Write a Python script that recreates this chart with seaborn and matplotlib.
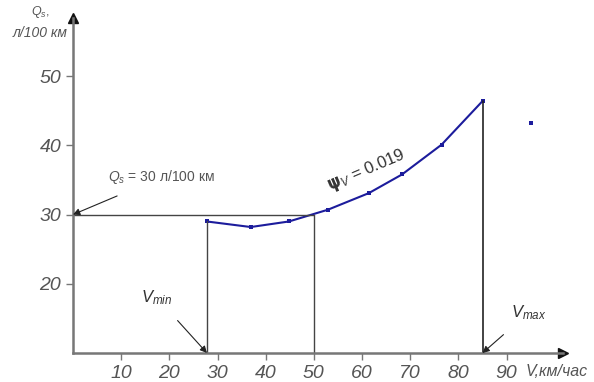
import matplotlib
matplotlib.use("Agg")
import matplotlib.pyplot as plt
import seaborn as sns
import pandas as pd

# Data
speed = [27.8, 36.9, 44.8, 52.9, 61.4, 68.3, 76.5, 85.0]
fuel = [29.0, 28.2, 29.0, 30.7, 33.1, 35.8, 40.1, 46.4]
extra_speed = [95.0]
extra_fuel = [43.3]
x_ticks = [10, 20, 30, 40, 50, 60, 70, 80, 90]
y_ticks = [20, 30, 40, 50]
v_min = 27.8
v_max = 85.0
v_ref = 50
q_ref = 30
q_vmax = 46.4
q_vmin = 29.0

sns.set_theme(style="white")
fam = ["Liberation Sans Narrow", "Liberation Sans", "DejaVu Sans"]
plt.rcParams["font.family"] = fam
plt.rcParams["mathtext.fontset"] = "custom"
plt.rcParams["mathtext.it"] = "Liberation Sans:italic"
plt.rcParams["mathtext.rm"] = "Liberation Sans"

txt = "#555555"
fig = plt.figure(figsize=(5.94, 3.82), dpi=100)
ax = fig.add_axes([73/594, 29/382, (563-73)/594, (353-18)/382])
ax.set_xlim(0, 101.7)
ax.set_ylim(10, 58.4)

df = pd.DataFrame({"V": speed, "Q": fuel})
sns.lineplot(data=df, x="V", y="Q", ax=ax, color="#1c1c9c", lw=1.5,
             marker="s", markersize=2.5, markeredgewidth=0)
sns.scatterplot(x=extra_speed, y=extra_fuel, ax=ax, color="#1c1c9c",
                s=6, marker="s", linewidth=0)

lc = "#444444"
ax.plot([0, v_ref], [q_ref, q_ref], color=lc, lw=1)
ax.plot([v_ref, v_ref], [10, q_ref], color=lc, lw=1)
ax.plot([v_min, v_min], [10, q_vmin], color=lc, lw=1)
ax.plot([v_max, v_max], [10, q_vmax], color="#222222", lw=1.2)

for s in ["top", "right"]:
    ax.spines[s].set_visible(False)
for s in ["left", "bottom"]:
    ax.spines[s].set_color("#777777")
    ax.spines[s].set_linewidth(1.8)

ax.plot([101.7], [10], marker=">", color="#111111", markersize=7, clip_on=False)
ax.plot([0], [58.4], marker="^", color="#111111", markersize=7, clip_on=False)

ax.set_xticks(x_ticks)
ax.set_yticks(y_ticks)
ax.set_xticklabels([str(t) for t in x_ticks])
ax.set_yticklabels([str(t) for t in y_ticks])
ax.tick_params(axis="both", direction="out", length=5, width=1, color="#777777",
               labelsize=14, labelcolor=txt, bottom=True, left=True)
for lab in ax.get_xticklabels() + ax.get_yticklabels():
    lab.set_fontstyle("italic")
ax.set_xlabel("")
ax.set_ylabel("")

ax.text(94.0, 7.3, "V,км/час", fontsize=11.5, style="italic", color=txt,
        ha="left", va="center", clip_on=False)
ax.text(-6.8, 59.2, "$Q_s$,", fontsize=9, color=txt, ha="center", va="center",
        clip_on=False)
ax.text(-6.8, 56.2, "л/100 км", fontsize=10, style="italic", color=txt,
        ha="center", va="center", clip_on=False)

ax.annotate("$Q_s$ = 30 л/100 км", xy=(0, q_ref), xytext=(7.3, 35.4),
            fontsize=10, color=txt, ha="left", va="center",
            arrowprops=dict(arrowstyle="-|>", color="#222222", lw=0.8,
                            shrinkA=12, shrinkB=0, mutation_scale=10))
ax.annotate("$V_{min}$", xy=(v_min, 10), xytext=(17.4, 18.0),
            fontsize=12, color="#333333", ha="center", va="center",
            arrowprops=dict(arrowstyle="-|>", color="#222222", lw=0.8,
                            shrinkA=10, shrinkB=0, mutation_scale=10))
ax.annotate("$V_{max}$", xy=(v_max, 10), xytext=(94.5, 15.8),
            fontsize=12, color="#333333", ha="center", va="center",
            arrowprops=dict(arrowstyle="-|>", color="#222222", lw=0.8,
                            shrinkA=10, shrinkB=0, mutation_scale=10))
ax.text(61.0, 36.3, r"$\mathbf{\psi}_V$ = 0.019", fontsize=12, color="#333333",
        rotation=23, ha="center", va="center")

fig.savefig("out.png", dpi=100)
